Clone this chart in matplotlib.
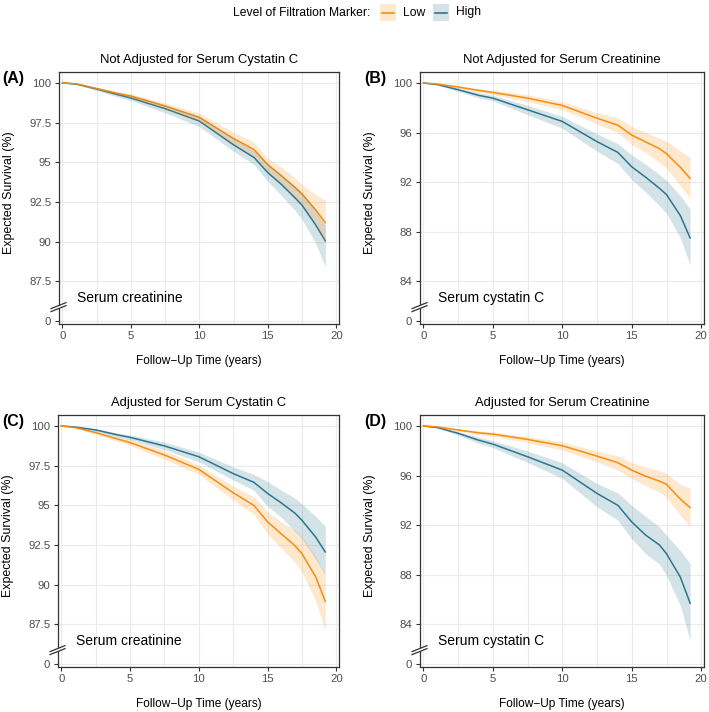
import matplotlib
matplotlib.use("Agg")
import matplotlib.pyplot as plt
from matplotlib.patches import Rectangle, Polygon
from matplotlib.lines import Line2D
from matplotlib.transforms import IdentityTransform

plt.rcParams['font.family'] = ['Liberation Sans', 'DejaVu Sans']

years = [0, 1, 2.5, 4, 5, 7.5, 10, 12.5, 14, 15, 16, 17, 17.5, 18.5, 19.2]

# (A) not adjusted for cystatin C  -- serum creatinine
a_low = [100, 99.95, 99.65, 99.35, 99.18, 98.55, 97.83, 96.5, 95.8, 94.85, 94.15, 93.4, 93.0, 92.0, 91.2]
a_low_hi = [100, 99.97, 99.72, 99.45, 99.3, 98.75, 98.1, 96.9, 96.25, 95.25, 94.7, 94.0, 93.6, 92.95, 92.6]
a_low_lo = [100, 99.93, 99.58, 99.25, 99.06, 98.35, 97.55, 96.15, 95.4, 94.45, 93.65, 92.8, 92.35, 91.2, 89.9]
a_high = [100, 99.93, 99.62, 99.27, 99.05, 98.38, 97.6, 96.1, 95.3, 94.35, 93.6, 92.75, 92.3, 91.05, 90.05]
a_high_hi = [100, 99.96, 99.7, 99.38, 99.2, 98.6, 97.9, 96.5, 95.75, 94.9, 94.2, 93.5, 93.1, 92.0, 91.0]
a_high_lo = [100, 99.9, 99.52, 99.12, 98.9, 98.12, 97.25, 95.7, 94.85, 93.8, 92.9, 91.95, 91.4, 89.9, 88.4]

# (B) not adjusted for creatinine  -- serum cystatin C
b_low = [100, 99.92, 99.68, 99.4, 99.24, 98.78, 98.19, 97.16, 96.6, 95.8, 95.25, 94.7, 94.3, 93.2, 92.3]
b_low_hi = [100, 99.95, 99.78, 99.55, 99.42, 99.05, 98.5, 97.6, 97.2, 96.5, 96.0, 95.55, 95.3, 94.5, 94.0]
b_low_lo = [100, 99.88, 99.58, 99.25, 99.06, 98.5, 97.85, 96.7, 96.0, 95.05, 94.4, 93.6, 93.15, 91.7, 90.7]
b_high = [100, 99.88, 99.46, 99.0, 98.78, 97.84, 96.9, 95.27, 94.4, 93.24, 92.4, 91.5, 91.0, 89.3, 87.5]
b_high_hi = [100, 99.93, 99.6, 99.2, 99.02, 98.2, 97.3, 95.9, 95.1, 94.2, 93.45, 92.6, 92.15, 90.9, 89.85]
b_high_lo = [100, 99.83, 99.32, 98.8, 98.55, 97.45, 96.35, 94.5, 93.5, 92.2, 91.2, 90.1, 89.5, 87.5, 85.3]

# (C) adjusted for cystatin C  -- serum creatinine
c_low = [100, 99.9, 99.58, 99.2, 98.95, 98.17, 97.26, 95.79, 95.0, 93.96, 93.2, 92.45, 91.96, 90.5, 88.95]
c_low_hi = [100, 99.94, 99.68, 99.35, 99.12, 98.45, 97.55, 96.2, 95.55, 94.6, 93.95, 93.45, 93.0, 91.8, 90.6]
c_low_lo = [100, 99.86, 99.48, 99.05, 98.78, 97.9, 96.95, 95.33, 94.45, 93.2, 92.3, 91.4, 90.8, 89.0, 87.1]
c_high = [100, 99.93, 99.75, 99.45, 99.28, 98.74, 98.06, 97.0, 96.45, 95.75, 95.15, 94.5, 94.06, 93.0, 92.06]
c_high_hi = [100, 99.96, 99.82, 99.57, 99.43, 98.98, 98.35, 97.42, 96.95, 96.5, 95.95, 95.45, 95.1, 94.3, 93.7]
c_high_lo = [100, 99.9, 99.67, 99.33, 99.12, 98.5, 97.75, 96.6, 95.95, 94.95, 94.25, 93.35, 92.9, 91.6, 90.6]

# (D) adjusted for creatinine  -- serum cystatin C
d_low = [100, 99.93, 99.68, 99.45, 99.35, 98.92, 98.41, 97.57, 97.04, 96.44, 95.95, 95.55, 95.3, 94.1, 93.42]
d_low_hi = [100, 99.96, 99.78, 99.6, 99.52, 99.15, 98.73, 97.98, 97.6, 97.04, 96.7, 96.4, 96.17, 95.3, 94.96]
d_low_lo = [100, 99.9, 99.58, 99.3, 99.18, 98.65, 98.06, 97.1, 96.45, 95.77, 95.2, 94.65, 94.23, 92.8, 91.91]
d_high = [100, 99.88, 99.41, 98.85, 98.54, 97.52, 96.44, 94.56, 93.6, 92.26, 91.2, 90.4, 89.7, 87.8, 85.71]
d_high_hi = [100, 99.93, 99.55, 99.1, 98.82, 97.98, 97.04, 95.36, 94.6, 93.6, 92.7, 91.85, 91.19, 89.95, 88.9]
d_high_lo = [100, 99.83, 99.27, 98.6, 98.26, 97.06, 95.77, 93.48, 92.4, 90.9, 89.7, 88.85, 87.95, 85.5, 82.7]

titles = ["Not Adjusted for Serum Cystatin C", "Not Adjusted for Serum Creatinine",
          "Adjusted for Serum Cystatin C", "Adjusted for Serum Creatinine"]
tags = ["(A)", "(B)", "(C)", "(D)"]
markers = ["Serum creatinine", "Serum cystatin C", "Serum creatinine", "Serum cystatin C"]

# y breaks; the "0" label sits just under the axis break
ticks_crea = [87.5, 90, 92.5, 95, 97.5, 100]
labels_crea = ["87.5", "90", "92.5", "95", "97.5", "100"]
ticks_cys = [84, 88, 92, 96, 100]
labels_cys = ["84", "88", "92", "96", "100"]
xticks = [0, 5, 10, 15, 20]

ORANGE = "#FB8C0E"
TEAL = "#2B7690"
W, H = 709, 712

fig = plt.figure(figsize=(W / 100, H / 100), dpi=100)

# panel boxes in pixels: left, top, right, bottom
boxes = [(59, 72, 339, 324), (420, 72, 704, 324), (58, 415, 339, 667), (420, 415, 704, 667)]
series = [
    (a_low, a_low_lo, a_low_hi, a_high, a_high_lo, a_high_hi),
    (b_low, b_low_lo, b_low_hi, b_high, b_high_lo, b_high_hi),
    (c_low, c_low_lo, c_low_hi, c_high, c_high_lo, c_high_hi),
    (d_low, d_low_lo, d_low_hi, d_high, d_high_lo, d_high_hi),
]

for i, (l, t, r, b) in enumerate(boxes):
    ax = fig.add_axes([l / W, 1 - b / H, (r - l) / W, (b - t) / H])
    lo, lo_l, lo_h, hi, hi_l, hi_h = series[i]
    crea = i in (0, 2)
    if crea:
        zero_pos, ylim = 85.0, (84.81, 100.69)
        yt, yl = [zero_pos] + ticks_crea, ["0"] + labels_crea
    else:
        zero_pos, ylim = 80.8, (80.56, 100.89)
        yt, yl = [zero_pos] + ticks_cys, ["0"] + labels_cys

    # lines under the ribbons, like survminer does it
    ax.plot(years, hi, color=TEAL, lw=1.1, zorder=3)
    ax.plot(years, lo, color=ORANGE, lw=1.1, zorder=3)
    ax.fill_between(years, hi_l, hi_h, color=TEAL, alpha=0.2, lw=0, zorder=4)
    ax.fill_between(years, lo_l, lo_h, color=ORANGE, alpha=0.2, lw=0, zorder=4)

    ax.set_xlim(-0.25, 20.2)
    ax.set_ylim(*ylim)
    ax.set_xticks(xticks)
    ax.set_xticks([2.5, 7.5, 12.5, 17.5], minor=True)
    ax.set_yticks(yt)
    ax.set_yticklabels(yl)
    ax.grid(True, which="major", color="#EBEBEB", lw=0.8, zorder=0)
    ax.grid(True, which="minor", axis="x", color="#EBEBEB", lw=0.8, zorder=0)
    ax.set_axisbelow(True)
    ax.tick_params(which="major", length=3, width=0.8, color="#333333",
                   labelcolor="#4D4D4D", labelsize=8.2, pad=2)
    ax.tick_params(axis="y", pad=2.5)
    ax.tick_params(which="minor", length=0)
    for sp in ax.spines.values():
        sp.set_color("#333333")
        sp.set_linewidth(0.9)

    ax.text(0.065, 0.105, markers[i], transform=ax.transAxes, fontsize=10,
            ha="left", va="center", color="black")

    # axis break mark on the left spine
    cx, cy = ax.transAxes.transform((0, 0.065))
    gap = 3.0
    p1 = [(cx - 8, cy - 4), (cx + 7, cy + 2)]
    p2 = [(cx - 8, cy - 4 + gap), (cx + 7, cy + 2 + gap)]
    fig.add_artist(Polygon([p1[0], p1[1], p2[1], p2[0]], closed=True, facecolor="white",
                           edgecolor="none", transform=IdentityTransform(), zorder=10))
    for p in (p1, p2):
        fig.add_artist(Line2D([p[0][0], p[1][0]], [p[0][1], p[1][1]], color="#333333",
                              lw=0.9, transform=IdentityTransform(), zorder=11))

    xc = (l + r) / 2
    fig.text(xc / W, 1 - (t - 12) / H, titles[i], ha="center", va="center", fontsize=9.4)
    fig.text(xc / W, 1 - (b + 37) / H, "Follow\u2212Up Time (years)", ha="center",
             va="center", fontsize=8.6)
    fig.text((l - 50) / W, 1 - ((t + b) / 2 - 5) / H, "Expected Survival (%)", rotation=90,
             ha="center", va="center", fontsize=8.9)
    tag_x = 2 if i in (0, 2) else 364
    fig.text(tag_x / W, 1 - (t + 7) / H, tags[i], ha="left", va="center",
             fontsize=11.5, fontweight="bold")

# legend across the top
ly = 1 - 12.5 / H
fig.text(233 / W, ly, "Level of Filtration Marker:", ha="left", va="center", fontsize=8.7)
for kx, col, name in ((380, ORANGE, "Low"), (433, TEAL, "High")):
    fig.add_artist(Rectangle((kx / W, 1 - 21 / H), 16 / W, 17 / H, transform=fig.transFigure,
                             facecolor=col, alpha=0.2, edgecolor="none"))
    fig.add_artist(Line2D([(kx + 2) / W, (kx + 14) / W], [ly, ly], color=col, lw=1.2,
                          transform=fig.transFigure))
    fig.text((kx + 23) / W, ly, name, ha="left", va="center", fontsize=8.7)

fig.savefig("out.png", dpi=100)
